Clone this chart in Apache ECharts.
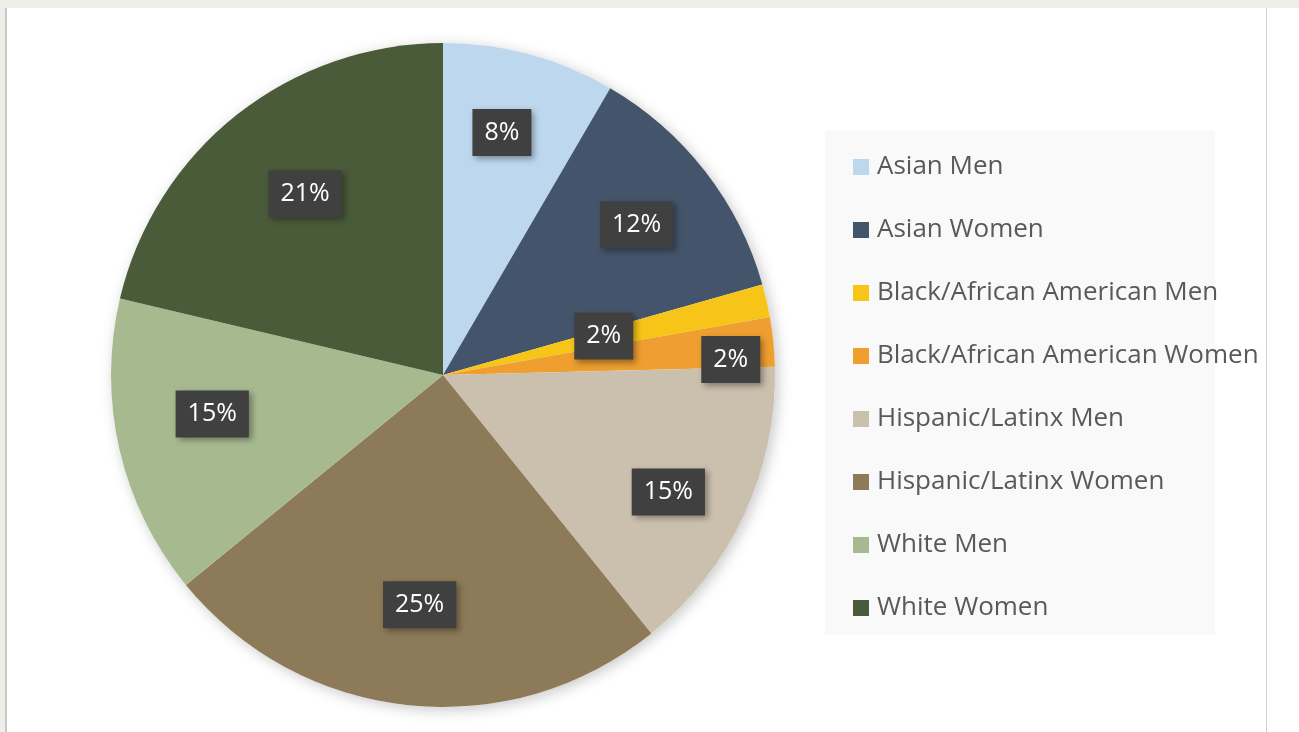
<!DOCTYPE html>
<html>
<head>
<meta charset="utf-8">
<script src="https://cdn.jsdelivr.net/npm/echarts@6/dist/echarts.min.js"></script>
<style>
  html, body { margin: 0; padding: 0; background: #ffffff; }
  #top { position: absolute; left: 0; top: 0; width: 1299px; height: 8px; background: #efeee9; }
  #left { position: absolute; left: 0; top: 0; width: 5px; height: 732px; background: #efeee9; }
  #leftLine { position: absolute; left: 5px; top: 8px; width: 2px; height: 724px; background: #c8c8c8; }
  #rightLine { position: absolute; left: 1266px; top: 8px; width: 1px; height: 724px; background: #d2d2d2; }
  #chart { position: absolute; left: 0; top: 0; width: 1299px; height: 732px; }
</style>
</head>
<body>
<div id="top"></div>
<div id="left"></div>
<div id="leftLine"></div>
<div id="rightLine"></div>
<div id="chart"></div>
<script>
let categories = [
  'Asian Men',
  'Asian Women',
  'Black/African American Men',
  'Black/African American Women',
  'Hispanic/Latinx Men',
  'Hispanic/Latinx Women',
  'White Men',
  'White Women',
];
let shares = [8.4, 12.2, 1.6, 2.4, 14.6, 24.9, 14.6, 21.3];
let colors = ['#bdd7ee', '#44546a', '#f7c518', '#ee9f2f', '#cbbfad', '#8c7a58', '#a6b98f', '#4a5b39'];

// label nudges (dx, dy) so the boxes sit where the original put them
let labelNudge = {
  0: [-5, -6],
  2: [-78, 16],
  3: [44, 9],
  4: [3, 14],
  5: [2, -14],
  6: [8, -16],
  7: [14, 11],
};

let data = categories.map((name, i) => ({ name, value: shares[i] }));

let chart = echarts.init(document.getElementById('chart'));

let font = '"Open Sans", "DejaVu Sans", sans-serif';
let center = [443, 375];

let options = {
  animation: false,
  color: colors,
  graphic: [
    {
      type: 'rect',
      left: 825,
      top: 130,
      shape: { width: 390, height: 505 },
      style: { fill: '#f9f9f9' },
      z: 0,
    },
  ],
  legend: {
    orient: 'vertical',
    left: 848,
    top: 147,
    icon: 'rect',
    itemWidth: 16,
    itemHeight: 16,
    itemGap: 33,
    data: categories,
    selectedMode: false,
    textStyle: {
      fontFamily: font,
      fontSize: 26,
      color: '#595959',
      lineHeight: 30,
      padding: [0, 0, 0, 3],
    },
  },
  series: [
    {
      // backdrop for the soft pie shadow
      type: 'pie',
      center,
      radius: 332,
      silent: true,
      label: { show: false },
      data: [{ name: '', value: 1, itemStyle: { color: '#ffffff' } }],
      itemStyle: {
        shadowBlur: 14,
        shadowOffsetX: 3,
        shadowOffsetY: 3,
        shadowColor: 'rgba(0,0,0,0.22)',
      },
      z: 1,
    },
    {
      type: 'pie',
      center,
      radius: 332,
      startAngle: 90,
      clockwise: true,
      silent: true,
      label: { show: false },
      labelLine: { show: false },
      data,
      z: 2,
    },
    {
      // label carrier, same slices, invisible
      type: 'pie',
      center,
      radius: [152, 332],
      startAngle: 90,
      clockwise: true,
      silent: true,
      itemStyle: { color: 'rgba(0,0,0,0)' },
      label: {
        show: true,
        position: 'inside',
        formatter: (p) => Math.round(p.value) + '%',
        fontFamily: font,
        fontSize: 25,
        color: '#ffffff',
        backgroundColor: '#404040',
        padding: [9, 12, 8, 12],
        lineHeight: 30,
        shadowBlur: 6,
        shadowOffsetX: 3,
        shadowOffsetY: 3,
        shadowColor: 'rgba(0,0,0,0.35)',
      },
      labelLine: { show: false },
      labelLayout: (p) => {
        let n = labelNudge[p.dataIndex];
        return n ? { dx: n[0], dy: n[1] } : {};
      },
      data,
      z: 3,
    },
  ],
};

chart.setOption(options);
</script>
</body>
</html>
